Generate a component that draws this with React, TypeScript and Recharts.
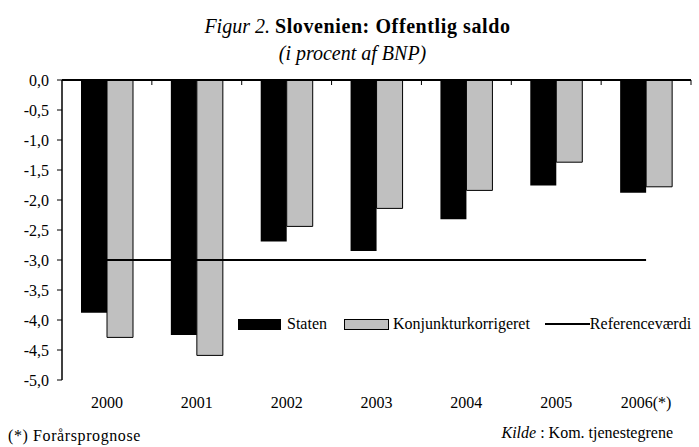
import React from "react";
import {
  ComposedChart,
  Bar,
  Line,
  XAxis,
  YAxis,
  ReferenceLine,
} from "recharts";

const years = ["2000", "2001", "2002", "2003", "2004", "2005", "2006(*)"];
const staten = [-3.88, -4.25, -2.69, -2.85, -2.32, -1.76, -1.88];
const konjunktur = [-4.29, -4.59, -2.44, -2.14, -1.84, -1.37, -1.78];
const reference = [-3, -3, -3, -3, -3, -3, -3];
const yTicks = [0, -0.5, -1, -1.5, -2, -2.5, -3, -3.5, -4, -4.5, -5];

const data = years.map((year, i) => ({
  year,
  staten: staten[i],
  konjunktur: konjunktur[i],
  refValue: reference[i],
}));

const FONT = "'Liberation Serif', 'Times New Roman', serif";
const W = 699;
const H = 447;
const MARGIN = { top: 80, right: 8, left: 0, bottom: 37 };
const Y_WIDTH = 62;
const PLOT_W = W - MARGIN.left - MARGIN.right - Y_WIDTH;
const HALF_BAND = PLOT_W / years.length / 2;

const fmt = (v: number) => v.toFixed(1).replace(".", ",");

// year label under the plot; also the boundary ticks on the top axis
const renderYearTick = (props: any) => {
  const { x, y, payload, index } = props;
  const half = payload?.offset || HALF_BAND;
  const top = MARGIN.top;
  const bx = x + half;
  return (
    <g key={`yt-${index}`}>
      {index === 0 && (
        <line
          x1={x - half}
          y1={top}
          x2={x - half + 2 * half * years.length}
          y2={top}
          stroke="#000"
          strokeWidth={1}
        />
      )}
      <line x1={bx} y1={top} x2={bx} y2={top + 5} stroke="#000" strokeWidth={1} />
      <text
        x={x}
        y={y}
        dy="0.71em"
        textAnchor="middle"
        fill="#000"
        fontSize={16}
        fontFamily={FONT}
      >
        {payload.value}
      </text>
    </g>
  );
};

export default function App() {
  return (
    <div
      style={{
        position: "absolute",
        left: 0,
        top: 0,
        width: W,
        height: H,
        background: "#fff",
        fontFamily: FONT,
        color: "#000",
      }}
    >
      <div
        style={{
          position: "absolute",
          left: 0,
          top: 14,
          width: 715,
          textAlign: "center",
          fontSize: 20,
          lineHeight: "24px",
        }}
      >
        <i>Figur 2.</i> <b style={{ letterSpacing: 0.6 }}>Slovenien: Offentlig saldo</b>
      </div>
      <div
        style={{
          position: "absolute",
          left: 0,
          top: 41,
          width: 705,
          textAlign: "center",
          fontSize: 20,
          lineHeight: "24px",
          fontStyle: "italic",
        }}
      >
        (i procent af BNP)
      </div>

      <ComposedChart
        width={W}
        height={H}
        data={data}
        margin={MARGIN}
        barGap={0}
        style={{ position: "absolute", left: 0, top: 0 }}
      >
        <XAxis
          dataKey="year"
          orientation="bottom"
          height={30}
          axisLine={false}
          tickLine={false}
          tickSize={0}
          tickMargin={17}
          interval={0}
          tick={renderYearTick}
        />
        <YAxis
          width={Y_WIDTH}
          domain={[-5, 0]}
          ticks={yTicks}
          interval={0}
          tickFormatter={fmt}
          axisLine={{ stroke: "#000", strokeWidth: 1.5 }}
          tickLine={{ stroke: "#000", strokeWidth: 1 }}
          tickSize={5}
          tickMargin={8}
          tick={{ fill: "#000", fontSize: 16, fontFamily: FONT }}
        />
        <Bar
          dataKey="staten"
          name="Staten"
          fill="#000"
          barSize={26}
          isAnimationActive={false}
        />
        <Bar
          dataKey="konjunktur"
          name="Konjunkturkorrigeret"
          fill="#c0c0c0"
          stroke="#000"
          strokeWidth={1}
          barSize={26}
          isAnimationActive={false}
        />
        <ReferenceLine y={0} stroke="#000" strokeWidth={1} ifOverflow="extendDomain" />
        <Line
          dataKey="refValue"
          name="Referenceværdi"
          stroke="#000"
          strokeWidth={2}
          dot={false}
          activeDot={false}
          isAnimationActive={false}
        />
      </ComposedChart>

      {/* top frame line of the plot (value axis zero) */}
      <div
        style={{
          position: "absolute",
          left: MARGIN.left + Y_WIDTH,
          top: MARGIN.top - 1,
          width: PLOT_W,
          height: 1.5,
          background: "#000",
        }}
      />

      <div
        style={{
          position: "absolute",
          left: 238,
          top: 315,
          display: "flex",
          alignItems: "center",
          fontSize: 16,
          whiteSpace: "nowrap",
        }}
      >
        <span style={{ width: 43, height: 11, background: "#000", display: "inline-block" }} />
        <span style={{ marginLeft: 6 }}>Staten</span>
        <span
          style={{
            marginLeft: 17,
            width: 43,
            height: 9,
            background: "#c0c0c0",
            border: "1px solid #000",
            display: "inline-block",
          }}
        />
        <span style={{ marginLeft: 4 }}>Konjunkturkorrigeret</span>
        <span
          style={{
            marginLeft: 15,
            width: 45,
            height: 2,
            background: "#000",
            display: "inline-block",
          }}
        />
        <span>Referenceværdi</span>
      </div>

      <div
        style={{ position: "absolute", left: 8, top: 427, fontSize: 16, letterSpacing: 0.6 }}
      >
        (*) Forårsprognose
      </div>
      <div
        style={{ position: "absolute", right: 26, top: 424, fontSize: 16, textAlign: "right" }}
      >
        <i>Kilde</i> : Kom. tjenestegrene
      </div>
    </div>
  );
}
